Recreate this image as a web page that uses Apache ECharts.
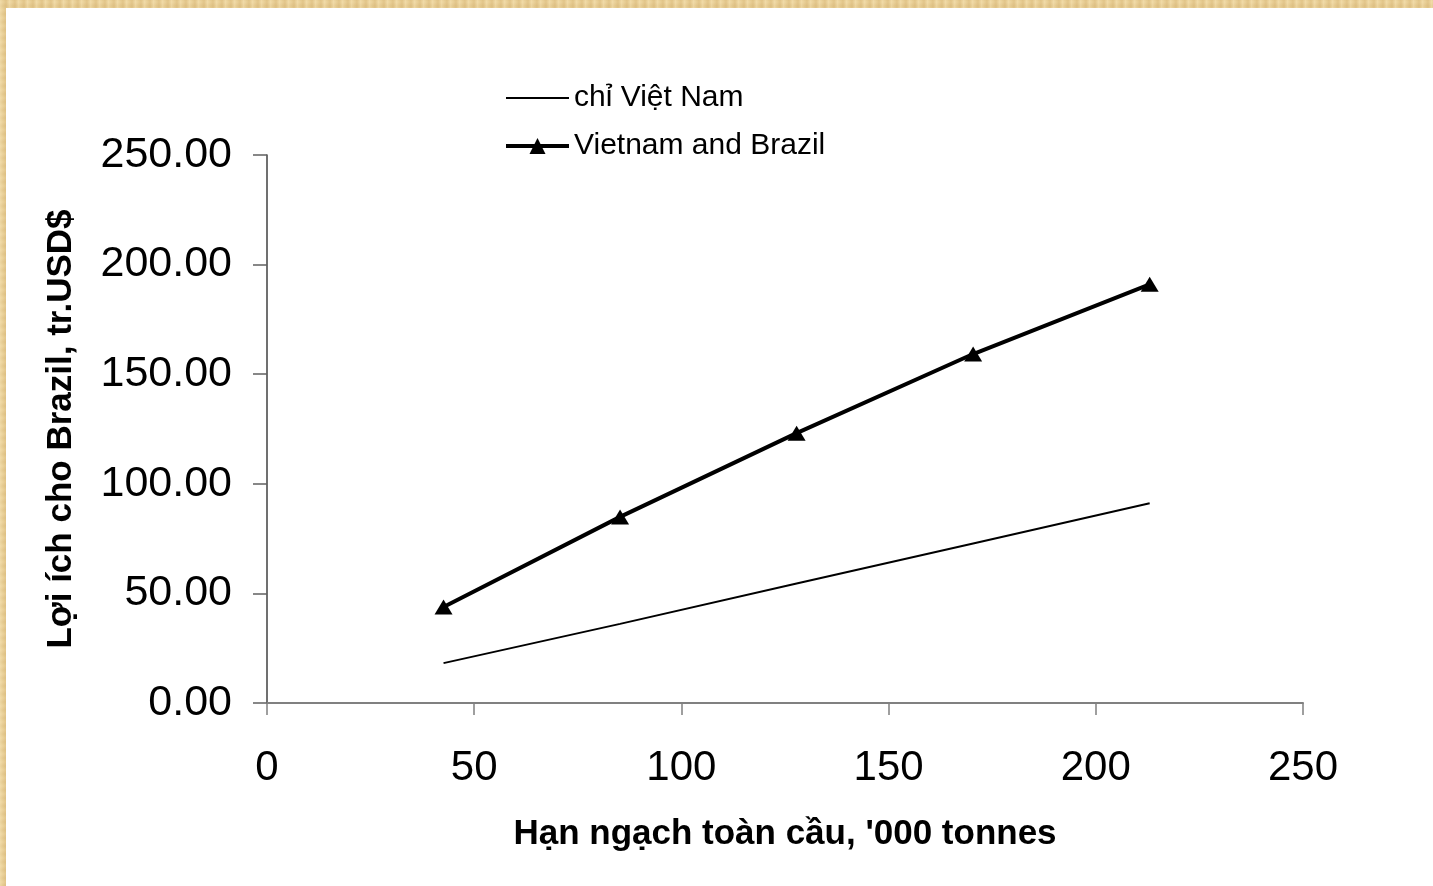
<!DOCTYPE html>
<html>
<head>
<meta charset="utf-8">
<script src="https://cdn.jsdelivr.net/npm/echarts@6/dist/echarts.min.js"></script>
<style>
  html, body { margin: 0; padding: 0; width: 1433px; height: 886px; overflow: hidden; }
  body {
    background-color: #e6cc92;
    background-image:
      repeating-linear-gradient(90deg, rgba(255,240,200,0.35) 0px, rgba(255,240,200,0.0) 3px, rgba(200,160,90,0.25) 6px, rgba(255,240,200,0.2) 9px),
      repeating-linear-gradient(0deg, rgba(220,190,130,0.3) 0px, rgba(255,235,190,0.2) 4px, rgba(220,190,130,0.3) 8px);
    position: relative;
  }
  #paper { position: absolute; left: 6px; top: 8px; right: 0; bottom: 0; background: #ffffff; }
  #chart { position: absolute; left: 0; top: 0; width: 1433px; height: 886px; }
</style>
</head>
<body>
<div id="paper"></div>
<div id="chart"></div>
<script>
// Data
const quotaX = [42.6, 85.2, 127.8, 170.4, 213.0];          // Hạn ngạch toàn cầu, '000 tonnes
const vietnamOnly = [18.2, 36.1, 54.5, 72.8, 91.1];         // chỉ Việt Nam
const vietnamBrazil = [43.8, 84.9, 123.1, 159.2, 191.0];    // Vietnam and Brazil
const seriesNames = ['chỉ Việt Nam', 'Vietnam and Brazil'];
const xAxisTitle = "Hạn ngạch toàn cầu, '000 tonnes";
const yAxisTitle = 'Lợi ích cho Brazil, tr.USD$';

const pairs = (xs, ys) => xs.map((x, i) => [x, ys[i]]);

const chart = echarts.init(document.getElementById('chart'), null, { renderer: 'canvas' });
const FONT = '"Liberation Sans", Arial, sans-serif';

chart.setOption({
  backgroundColor: 'transparent',
  animation: false,
  textStyle: { fontFamily: FONT, color: '#000' },
  grid: { left: 267, right: 130, top: 155, bottom: 183, containLabel: false },
  legend: {
    orient: 'vertical',
    left: 504,
    top: 83,
    padding: 0,
    itemWidth: 63,
    itemHeight: 20,
    itemGap: 18,
    textStyle: { fontFamily: FONT, fontSize: 30, color: '#000' },
    data: [
      { name: seriesNames[0], icon: 'path://M0,9 L62,9 L62,11 L0,11 Z', itemStyle: { color: '#000' } },
      { name: seriesNames[1], lineStyle: { width: 4, color: '#000' } }
    ]
  },
  xAxis: {
    type: 'value',
    min: 0, max: 250, interval: 50,
    name: xAxisTitle,
    nameLocation: 'middle',
    nameGap: 114,
    nameTextStyle: { fontFamily: FONT, fontSize: 35, fontWeight: 'bold', color: '#000' },
    axisLine: { show: true, onZero: false, lineStyle: { color: '#808080', width: 2 } },
    axisTick: { show: true, inside: false, length: 12, lineStyle: { color: '#808080', width: 1.5 } },
    axisLabel: { fontFamily: FONT, fontSize: 42, color: '#000', margin: 44 },
    splitLine: { show: false }
  },
  yAxis: {
    type: 'value',
    min: 0, max: 250, interval: 50,
    name: yAxisTitle,
    nameLocation: 'middle',
    nameGap: 188,
    nameRotate: 90,
    nameTextStyle: { fontFamily: FONT, fontSize: 35, fontWeight: 'bold', color: '#000' },
    axisLine: { show: true, onZero: false, lineStyle: { color: '#404040', width: 1.5 } },
    axisTick: { show: true, inside: false, length: 14, lineStyle: { color: '#606060', width: 1.5 } },
    axisLabel: { fontFamily: FONT, fontSize: 43, color: '#000', margin: 35,
                 formatter: v => v.toFixed(2) },
    splitLine: { show: false }
  },
  series: [
    {
      name: seriesNames[0],
      type: 'line',
      data: pairs(quotaX, vietnamOnly),
      symbol: 'none',
      lineStyle: { color: '#000', width: 2 },
      itemStyle: { color: '#000' }
    },
    {
      name: seriesNames[1],
      type: 'line',
      data: pairs(quotaX, vietnamBrazil),
      symbol: 'triangle',
      symbolSize: [18, 15],
      showSymbol: true,
      lineStyle: { color: '#000', width: 4 },
      itemStyle: { color: '#000' }
    }
  ]
});
</script>
</body>
</html>
